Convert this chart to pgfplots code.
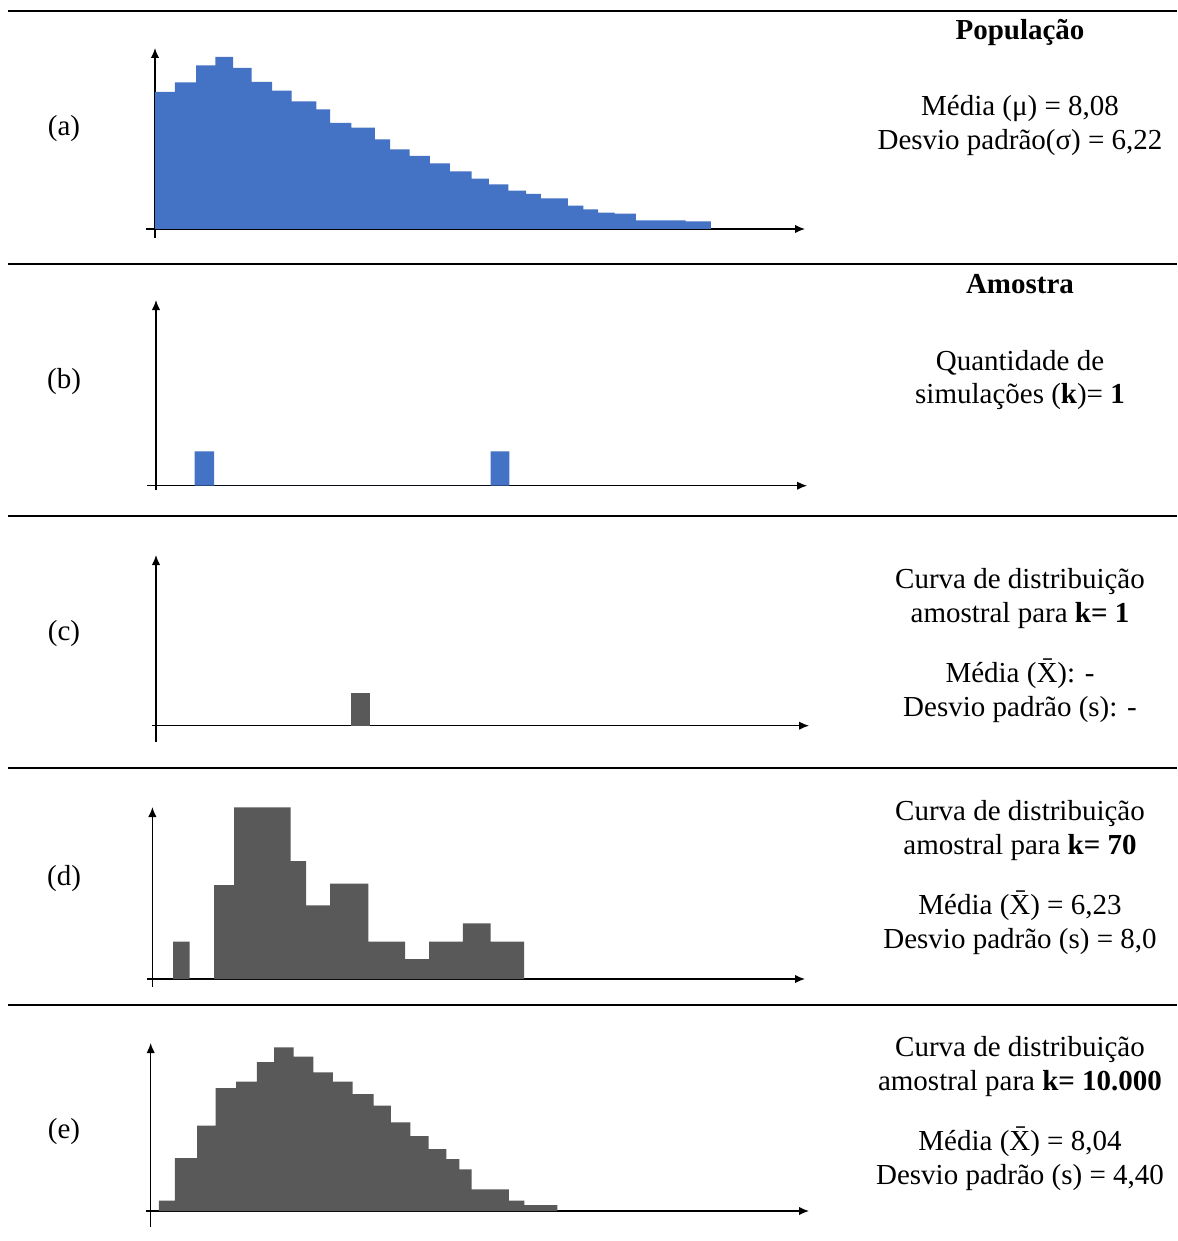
\documentclass[border=0pt]{standalone}
\usepackage{fontspec}
\setmainfont{Liberation Serif}
\usepackage{pgfplots}
\pgfplotsset{compat=1.18}
\usetikzlibrary{arrows.meta}
\definecolor{barblue}{HTML}{4472C4}
\definecolor{bargray}{HTML}{595959}
\pgfplotsset{hist/.style={axis lines=middle, x=0.5pt, y=0.5pt, ticks=none, clip=false, anchor=origin,
  axis line style={line width=0.65pt, black, -{Latex[length=5pt,width=4.2pt]}},
  every inner x axis line/.append style={-{Latex[length=5pt,width=4.2pt]}},
  every inner y axis line/.append style={-{Latex[length=5pt,width=4.2pt]}}}}
\begin{document}
\fontsize{14.5}{17}\selectfont
\begin{tikzpicture}
\path[use as bounding box] (0,0) rectangle (588.5pt,-620.5pt);
% rules
\foreach \yy in {-5.5,-132,-258,-384,-502.5}{\draw[line width=0.9pt] (4pt,\yy pt) -- (588.5pt,\yy pt);}
% (a)
\begin{axis}[hist, at={(77.5pt,-114.5pt)}, xmin=-9, xmax=650, ymin=-9, ymax=181]
\addplot[ybar interval, fill=barblue, draw=none] coordinates {
(0,137)(19.9,146.7)(41.2,163.7)(60.3,172)(78,161)(96.7,147)(117.1,138.3)(136.6,127.7)(161.3,119.7)(175.2,106)(196.4,101.3)(219.8,89.7)(235,79.7)(254.5,73)(274.9,65.7)(294.8,57.7)(316.5,50.3)(333.9,44.7)(353.4,38.3)(371.2,35)(385.9,30.7)(412.8,23.3)(428.4,19.7)(443.1,16.3)(459.6,15.3)(480.9,8.7)(530.7,7.7)(555.9,0)};
\end{axis}
% (b)
\begin{axis}[hist, at={(78pt,-242.85pt)}, xmin=-9, xmax=651, ymin=-4.3, ymax=185.7]
\addplot[ybar interval, fill=barblue, draw=none] coordinates {(38.5,34.3)(58,0)(334.6,34.3)(353.3,0)};
\end{axis}
% (c)
\begin{axis}[hist, at={(78pt,-362.85pt)}, xmin=-4.5, xmax=653, ymin=-16.3, ymax=170.7]
\addplot[ybar interval, fill=bargray, draw=none] coordinates {(195.4,33)(214,0)};
\end{axis}
% (d)
\begin{axis}[hist, at={(76.2pt,-489.5pt)}, xmin=-5.4, xmax=652.6, ymin=-7.7, ymax=172]
\addplot[ybar interval, fill=bargray, draw=none] coordinates {
(20.8,37.3)(37.3,0)(61.6,94)(81.6,171.7)(138.3,118)(153.6,73.7)(177.8,95.3)(215.9,37.3)(252.8,20)(276.6,37.3)(310.5,55.7)(338.2,37.3)(371.6,0)};
\end{axis}
% (e)
\begin{axis}[hist, at={(75.35pt,-605.5pt)}, xmin=-4.7, xmax=658.3, ymin=-15.7, ymax=168]
\addplot[ybar interval, fill=bargray, draw=none] coordinates {
(8.2,10.3)(24.2,53)(46.4,85.3)(65,123)(85.4,129.3)(106.2,149)(123.5,163.7)(143,154.3)(162.6,138.7)(182.1,129.3)(202,117)(222.8,105.3)(240.2,88.7)(259.7,75)(277.9,62)(295.7,52)(308.7,41.7)(320.8,21.7)(358.1,10.3)(373.7,6)(406.7,0)};
\end{axis}
% labels
\node[anchor=base] at (32pt,-68pt) {(a)};
\node[anchor=base] at (32pt,-194pt) {(b)};
\node[anchor=base] at (32pt,-320pt) {(c)};
\node[anchor=base] at (32pt,-442.5pt) {(d)};
\node[anchor=base] at (32pt,-569pt) {(e)};
% right texts
\node[anchor=base] at (510pt,-20pt) {\textbf{População}};
\node[anchor=base] at (510pt,-58pt) {Média (μ) = 8,08};
\node[anchor=base] at (510pt,-75pt) {Desvio padrão(σ) = 6,22};
\node[anchor=base] at (510pt,-146.5pt) {\textbf{Amostra}};
\node[anchor=base] at (510pt,-185pt) {Quantidade de};
\node[anchor=base] at (510pt,-201.5pt) {simulações (\textbf{k})= \textbf{1}};
\node[anchor=base] at (510pt,-294pt) {Curva de distribuição};
\node[anchor=base] at (510pt,-311pt) {amostral para \textbf{k= 1}};
\node[anchor=base] at (510pt,-341pt) {Média (\={X}): -};
\node[anchor=base] at (510pt,-358pt) {Desvio padrão (s): -};
\node[anchor=base] at (510pt,-410pt) {Curva de distribuição};
\node[anchor=base] at (510pt,-427pt) {amostral para \textbf{k= 70}};
\node[anchor=base] at (510pt,-457pt) {Média (\={X}) = 6,23};
\node[anchor=base] at (510pt,-474pt) {Desvio padrão (s) = 8,0};
\node[anchor=base] at (510pt,-528pt) {Curva de distribuição};
\node[anchor=base] at (510pt,-545pt) {amostral para \textbf{k= 10.000}};
\node[anchor=base] at (510pt,-575pt) {Média (\={X}) = 8,04};
\node[anchor=base] at (510pt,-592pt) {Desvio padrão (s) = 4,40};
\end{tikzpicture}
\end{document}
